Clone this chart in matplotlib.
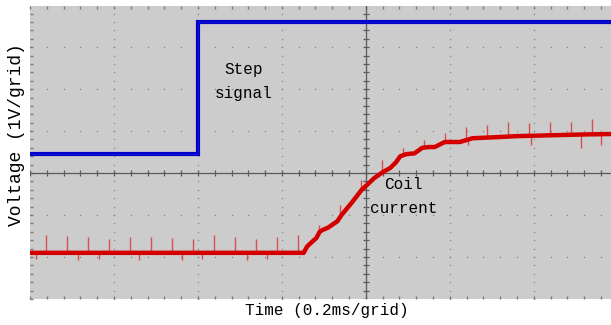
import numpy as np
import matplotlib
matplotlib.use("Agg")
import matplotlib.pyplot as plt

# all values in screen divisions (x: 0.2 ms/div, y: 1 V/div), origin at the centre axes
# step signal (blue)
step_t = [-4.0, -2.0, -2.0, 2.92]
step_v = [0.45, 0.45, 3.60, 3.60]

# coil current (red)
coil_t = [-4.0, -0.74, -0.70, -0.62, -0.59, -0.55, -0.52, -0.45, -0.37, -0.34,
          -0.29, -0.17, -0.05, 0.01, 0.10, 0.20, 0.29, 0.36, 0.41, 0.48,
          0.58, 0.67, 0.75, 0.82, 0.94, 1.12, 1.27, 1.50, 1.80, 2.20,
          2.60, 2.92]
coil_v = [-1.90, -1.90, -1.75, -1.60, -1.55, -1.40, -1.36, -1.30, -1.19, -1.15,
          -1.00, -0.71, -0.40, -0.29, -0.12, 0.02, 0.12, 0.26, 0.40, 0.45,
          0.47, 0.60, 0.62, 0.62, 0.74, 0.74, 0.83, 0.85, 0.88, 0.90,
          0.92, 0.93]

# periodic switching spikes on the coil current: position and top value
spike_t = [-3.81, -3.56, -3.31, -3.06, -2.81, -2.56, -2.31, -2.06, -1.81,
           -1.56, -1.31, -1.06, -0.81, -0.56, -0.31, -0.06, 0.19, 0.44,
           0.69, 0.94, 1.19, 1.44, 1.69, 1.94, 2.19, 2.44, 2.69]
spike_top = [-1.48, -1.50, -1.52, -1.57, -1.52, -1.52, -1.55, -1.57, -1.48,
             -1.52, -1.57, -1.52, -1.48, -1.24, -0.76, -0.17, 0.31, 0.60,
             0.79, 0.95, 1.10, 1.14, 1.21, 1.19, 1.21, 1.21, 1.29]
dip_t = [-3.93, -3.43, -3.18, -2.70, -2.19, -1.95, -1.42, -1.18, 1.22, 1.97, 2.56, 2.80]
dip_bot = [-2.05, -2.08, -2.05, -2.08, -2.08, -2.05, -2.08, -2.05, 0.67, 0.67, 0.60, 0.67]

XMIN, XMAX, YMIN, YMAX = -4.0, 2.92, -3.0, 3.98

fig = plt.figure(figsize=(6.11, 3.25), dpi=100)
ax = fig.add_axes([30 / 611, 26 / 325, 581 / 611, 293 / 325])
ax.set_facecolor("#cccccc")
ax.set_xlim(XMIN, XMAX)
ax.set_ylim(YMIN, YMAX)
for s in ax.spines.values():
    s.set_visible(False)

# dotted graticule
dot_col = "#8c8c8c"
minor_x = np.arange(-4.0, 3.0, 0.2)
minor_y = np.arange(-3.0, 4.0, 0.2)
for gx in range(-3, 3):
    if gx == 0:
        continue
    ax.scatter(np.full(len(minor_y), gx), minor_y, s=1.2, color=dot_col, lw=0, zorder=1)
for gy in range(-2, 4):
    if gy == 0:
        continue
    ax.scatter(minor_x, np.full(len(minor_x), gy), s=1.2, color=dot_col, lw=0, zorder=1)

# centre axes with small ticks
ax_col = "#5a5a5a"
ax.axhline(0, color=ax_col, lw=0.9, zorder=2)
ax.axvline(0, color=ax_col, lw=0.9, zorder=2)
ax.vlines(minor_x, -0.07, 0.07, color=ax_col, lw=0.9, zorder=2)
ax.hlines(minor_y, -0.035, 0.035, color=ax_col, lw=0.9, zorder=2)

# border ticks
ax.set_xticks(np.arange(-4.0, 3.0, 0.2))
ax.set_yticks(np.arange(-3.0, 4.0, 0.2))
ax.tick_params(which="both", direction="in", length=2.5, width=1.0, color="#777777",
               labelbottom=False, labelleft=False, top=True, right=False)

# traces
ax.plot(step_t, step_v, color="#0000c8", lw=3.0, solid_joinstyle="miter", zorder=4)
ax.plot(step_t, step_v, color="#2020e0", lw=0.8, alpha=0.6, zorder=4)

base = np.interp(spike_t, coil_t, coil_v)
ax.vlines(spike_t, base, spike_top, color="#d83030", lw=1.0, alpha=0.8, zorder=3)
base_d = np.interp(dip_t, coil_t, coil_v)
ax.vlines(dip_t, dip_bot, base_d, color="#d83030", lw=1.0, alpha=0.8, zorder=3)
ax.plot(coil_t, coil_v, color="#d40000", lw=3.2, zorder=4)

txt = dict(family="Liberation Mono", fontsize=11.5, color="black")
ax.text(-1.46, 2.19, "Step\nsignal", ha="center", va="center", linespacing=1.75, zorder=5, **txt)
ax.text(0.45, -0.57, "Coil\ncurrent", ha="center", va="center", linespacing=1.75, zorder=5, **txt)

fig.text(327 / 611, 1 - 311 / 325, "Time (0.2ms/grid)", ha="center", va="center", **txt)
fig.text(17 / 611, 1 - 135 / 325, "Voltage (1V/grid)", ha="center", va="center",
         rotation=90, family="Liberation Mono", fontsize=13, color="black")

fig.savefig("out.png", dpi=100)
